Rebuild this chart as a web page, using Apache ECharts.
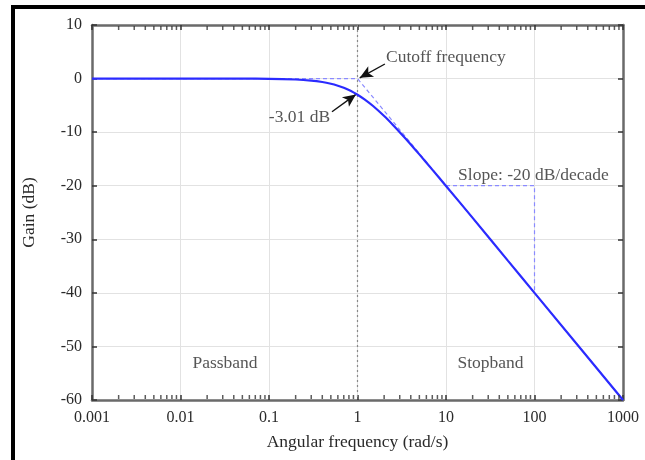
<!DOCTYPE html>
<html><head><meta charset="utf-8">
<script src="https://cdn.jsdelivr.net/npm/echarts@6/dist/echarts.min.js"></script>
<style>html,body{margin:0;padding:0;background:#fff}#c{width:645px;height:460px}</style>
</head><body><div id="c"></div>
<script>
// ---- data ----
const xTickLabels = ['0.001','0.01','0.1','1','10','100','1000'];
const yTickLabels = ['-60','-50','-40','-30','-20','-10','0','10'];
const freq = [0.001,0.01,0.05,0.1,0.2,0.3,0.4,0.5,0.6,0.7,0.8,0.9,1,1.2,1.5,2,2.5,3,4,5,7,10,20,50,100,1000];
const gain = [0,0,-0.01,-0.04,-0.17,-0.37,-0.64,-0.97,-1.34,-1.73,-2.15,-2.58,-3.01,-3.87,-5.12,-6.99,-8.6,-10.0,-12.3,-14.15,-16.99,-20.04,-26.0,-33.98,-40.0,-60.0];
const asymFreq = [0.001,1,1000];
const asymGain = [0,0,-60];
const slopeFreq = [10,100,100];
const slopeGain = [-20,-20,-40];
const cutoffFreq = [1,1];
const cutoffGain = [10,-60];
const minorTickValues = [];
[0.001,0.01,0.1,1,10,100].forEach(d=>{for(let k=2;k<=9;k++)minorTickValues.push(+(d*k).toPrecision(3));});
const annotations = [
  {text:'Cutoff frequency', x:2.1, y:3.9, pos:'right'},
  {text:'-3.01 dB', x:0.49, y:-7.3, pos:'left'},
  {text:'Slope: -20 dB/decade', x:13.7, y:-18.1, pos:'right'},
  {text:'Passband', x:0.0318, y:-53.1, pos:'inside'},
  {text:'Stopband', x:31.8, y:-53.1, pos:'inside'}
];
const arrows = [
  {from:[2.04,2.72], to:[1.06,0.15]},
  {from:[0.515,-6.2], to:[0.96,-2.95]}
];
// ---- chart ----
const FONT = 'Liberation Serif';
const TXT = '#2a2a2a';
const chart = echarts.init(document.getElementById('c'), null, {renderer:'canvas'});
const zip = (a,b)=>a.map((v,i)=>[v,b[i]]);
const xLabelFmt = v => xTickLabels[Math.round(Math.log10(v))+3] || '';
const axisLineStyle = {color:'#6a6a6a', width:2.5};
const gridStyle = {color:'#e2e2e2', width:1};
const tickStyle = {show:true,inside:true,length:5,lineStyle:{color:'#333',width:1.5}};
chart.setOption({
  animation:false,
  backgroundColor:'#fff',
  grid:{left:92,right:22,top:25,bottom:60},
  xAxis:[{
    type:'log', logBase:10, min:0.001, max:1000,
    position:'bottom',
    name:'Angular frequency (rad/s)', nameLocation:'middle', nameGap:33,
    nameTextStyle:{fontFamily:FONT,fontSize:17.5,color:TXT},
    axisLine:{show:true,onZero:false,lineStyle:axisLineStyle},
    axisTick:tickStyle,
    axisLabel:{fontFamily:FONT,fontSize:16,color:TXT,margin:10,formatter:xLabelFmt},
    splitLine:{show:true,lineStyle:gridStyle},
    minorTick:{show:false}
  },{
    type:'log', logBase:10, min:0.001, max:1000,
    position:'top',
    axisLine:{show:true,onZero:false,lineStyle:axisLineStyle},
    axisTick:tickStyle,
    axisLabel:{show:false},
    splitLine:{show:false}
  }],
  yAxis:[{
    type:'value', min:-60, max:10, interval:10,
    name:'Gain (dB)', nameLocation:'middle', nameGap:54,
    nameTextStyle:{fontFamily:FONT,fontSize:17.5,color:TXT},
    axisLine:{show:true,onZero:false,lineStyle:axisLineStyle},
    axisTick:tickStyle,
    axisLabel:{fontFamily:FONT,fontSize:16,color:TXT,margin:10,
      formatter:v=>yTickLabels[Math.round((v+60)/10)]},
    splitLine:{show:true,lineStyle:gridStyle}
  },{
    type:'value', min:-60, max:10, interval:10, position:'right',
    axisLine:{show:true,onZero:false,lineStyle:axisLineStyle},
    axisTick:tickStyle,
    axisLabel:{show:false},
    splitLine:{show:false}
  }],
  graphic:[
    {type:'rect',shape:{x:11,y:5,width:634,height:4},style:{fill:'#000'},z:100},
    {type:'rect',shape:{x:11,y:5,width:4,height:455},style:{fill:'#000'},z:100}
  ],
  series:[
    {type:'line', name:'cutoff', data:zip(cutoffFreq,cutoffGain), symbol:'none', silent:true,
      lineStyle:{color:'#888',width:1.2,type:[2,3]}, z:2},
    {type:'line', name:'asymptote', data:zip(asymFreq,asymGain), symbol:'none', silent:true,
      lineStyle:{color:'#8a8aff',width:1.2,type:[4,3]}, z:3},
    {type:'line', name:'slope', data:zip(slopeFreq,slopeGain), symbol:'none', silent:true,
      lineStyle:{color:'#8a8aff',width:1.2,type:[4,3]}, z:3},
    {type:'line', name:'gain', data:zip(freq,gain), symbol:'none', smooth:0.2, silent:true,
      lineStyle:{color:'#2b2bff',width:2.2}, z:5,
      markLine:{silent:true, symbol:['none','arrow'], symbolSize:[9,13],
        lineStyle:{color:'#111',width:1.4,type:'solid'}, label:{show:false},
        data:arrows.map(a=>[{coord:a.from},{coord:a.to}])}},
    {type:'scatter', name:'minorBottom', xAxisIndex:0, yAxisIndex:0, clip:false, silent:true,
      data:minorTickValues.map(v=>[v,-60]), symbol:'rect', symbolSize:[1.5,4], symbolOffset:[0,-3],
      itemStyle:{color:'#333'}, z:6},
    {type:'scatter', name:'minorTop', xAxisIndex:0, yAxisIndex:0, clip:false, silent:true,
      data:minorTickValues.map(v=>[v,10]), symbol:'rect', symbolSize:[1.5,4], symbolOffset:[0,3],
      itemStyle:{color:'#333'}, z:6},
    {type:'scatter', name:'annotations', silent:true, symbolSize:0,
      data:annotations.map(a=>({value:[a.x,a.y],label:{show:true,position:a.pos,distance:0,
        formatter:a.text,fontFamily:FONT,fontSize:17.5,color:TXT}})), z:7}
  ]
});
</script></body></html>
